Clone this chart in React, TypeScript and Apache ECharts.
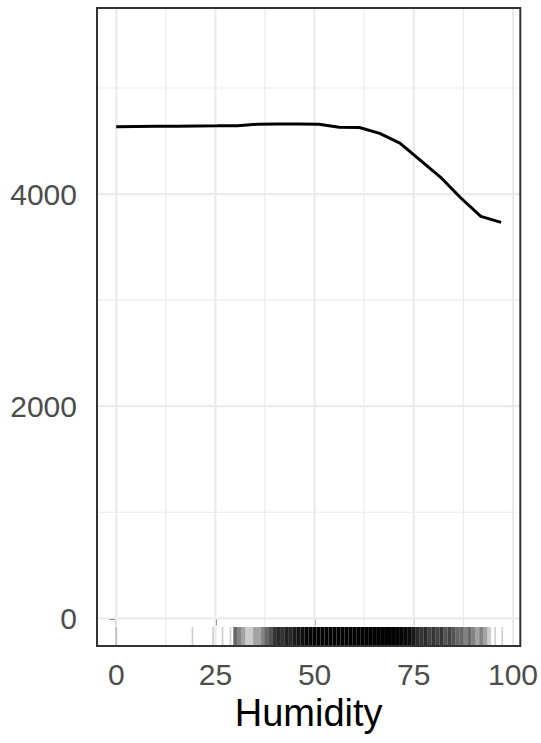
import { useEffect, useRef } from "react";
import * as echarts from "echarts";

// Partial dependence of predicted count on humidity
const pdHumidity = [0, 5.1, 10.2, 15.3, 20.4, 25.5, 30.6, 35.7, 40.8, 45.9, 51.1, 56.2, 61.3, 66.4, 71.5, 76.6, 81.7, 86.8, 91.9, 97.0];
const pdPrediction = [4634, 4636, 4638, 4640, 4642, 4643, 4645, 4659, 4660, 4660, 4658, 4630, 4627, 4572, 4480, 4320, 4160, 3965, 3790, 3733];

// Rug: isolated observations and binned observation counts
const rugSingles = [0, 19.2, 24.4, 26.8, 28.8, 95.5, 97.3];
const rugBinHumidity = [30, 31, 32, 33, 34, 35, 36, 37, 38, 39, 40, 41, 42, 43, 44, 45, 46, 47, 48, 49, 50, 51, 52, 53, 54, 55, 56, 57, 58, 59, 60, 61, 62, 63, 64, 65, 66, 67, 68, 69, 70, 71, 72, 73, 74, 75, 76, 77, 78, 79, 80, 81, 82, 83, 84, 85, 86, 87, 88, 89, 90, 91, 92, 93, 94];
const rugBinCount = [4, 3, 2, 1, 1, 2, 2, 3, 4, 5, 7, 8, 7, 9, 8, 10, 11, 13, 16, 18, 20, 22, 20, 24, 22, 25, 24, 26, 24, 25, 26, 24, 25, 23, 24, 22, 23, 20, 21, 19, 20, 18, 17, 15, 13, 10, 8, 7, 8, 6, 7, 6, 7, 5, 6, 5, 4, 4, 3, 4, 3, 2, 3, 2, 1];

// Axes
const xTicks = [0, 25, 50, 75, 100];
const xMinor = [12.5, 37.5, 62.5, 87.5];
const yTicks = [0, 2000, 4000];
const yMinor = [1000, 3000, 5000];
const xRange = [-4.85, 101.85];
const yRange = [-261, 5754];

export default function App() {
  const ref = useRef<HTMLDivElement>(null);
  useEffect(() => {
    if (!ref.current) return;
    const chart = echarts.init(ref.current, null, { renderer: "svg" });

    const gridData: number[][] = [];
    xTicks.forEach((v) => gridData.push([v, 0, 1]));
    xMinor.forEach((v) => gridData.push([v, 0, 0]));
    yTicks.forEach((v) => gridData.push([v, 1, 1]));
    yMinor.forEach((v) => gridData.push([v, 1, 0]));

    const rugBins = rugBinHumidity.map((h, i) => [h, rugBinCount[i]]);
    const rugLen = 19;
    const font = "'Liberation Sans', Arial, Helvetica, sans-serif";

    chart.setOption({
      animation: false,
      backgroundColor: "#ffffff",
      grid: {
        left: 97,
        top: 8,
        width: 426,
        height: 638,
        show: false,
        containLabel: false,
      },
      xAxis: {
        type: "value",
        min: xRange[0],
        max: xRange[1],
        name: "Humidity",
        nameLocation: "middle",
        nameGap: 45,
        nameTextStyle: { fontSize: 38, color: "#000000", fontFamily: font },
        axisLine: { show: false },
        splitLine: { show: false },
        axisTick: {
          show: true,
          length: 7,
          customValues: xTicks,
          lineStyle: { color: "#333333", width: 2 },
        },
        axisLabel: {
          customValues: xTicks,
          margin: 13,
          fontSize: 30,
          color: "#4d4d4d",
          fontFamily: font,
          formatter: (v: number) => String(v),
        },
      },
      yAxis: {
        type: "value",
        min: yRange[0],
        max: yRange[1],
        axisLine: { show: false },
        splitLine: { show: false },
        axisTick: {
          show: true,
          length: 7,
          customValues: yTicks,
          lineStyle: { color: "#333333", width: 2 },
        },
        axisLabel: {
          customValues: yTicks,
          margin: 20,
          fontSize: 30,
          color: "#4d4d4d",
          fontFamily: font,
          formatter: (v: number) => String(v),
        },
      },
      series: [
        {
          type: "custom",
          z: 1,
          silent: true,
          data: gridData,
          renderItem: (params: any, api: any) => {
            const cs = params.coordSys;
            const v = api.value(0);
            const isY = api.value(1) === 1;
            const major = api.value(2) === 1;
            const style = { stroke: "#ebebeb", lineWidth: major ? 2.2 : 1.2 };
            if (!isY) {
              const x = api.coord([v, yRange[0]])[0];
              return { type: "line", shape: { x1: x, y1: cs.y, x2: x, y2: cs.y + cs.height }, style };
            }
            const y = api.coord([xRange[0], v])[1];
            return { type: "line", shape: { x1: cs.x, y1: y, x2: cs.x + cs.width, y2: y }, style };
          },
        },
        {
          type: "custom",
          z: 2,
          silent: true,
          data: rugBins,
          renderItem: (params: any, api: any) => {
            const cs = params.coordSys;
            const h = api.value(0);
            const n = api.value(1);
            const x1 = api.coord([h - 0.5, yRange[0]])[0];
            const x2 = api.coord([h + 0.5, yRange[0]])[0];
            const bottom = cs.y + cs.height;
            return {
              type: "rect",
              shape: { x: x1, y: bottom - rugLen, width: x2 - x1, height: rugLen },
              style: { fill: "#000000", opacity: 1 - Math.pow(0.8, n) },
            };
          },
        },
        {
          type: "custom",
          z: 2,
          silent: true,
          data: rugSingles.map((h) => [h]),
          renderItem: (params: any, api: any) => {
            const cs = params.coordSys;
            const x = api.coord([api.value(0), yRange[0]])[0];
            const bottom = cs.y + cs.height;
            return {
              type: "line",
              shape: { x1: x, y1: bottom - rugLen, x2: x, y2: bottom },
              style: { stroke: "#000000", lineWidth: 1.6, opacity: 0.2 },
            };
          },
        },
        {
          type: "line",
          z: 3,
          silent: true,
          showSymbol: false,
          symbol: "none",
          data: pdHumidity.map((h, i) => [h, pdPrediction[i]]),
          lineStyle: { color: "#000000", width: 3 },
        },
        {
          type: "custom",
          z: 4,
          silent: true,
          data: [[0]],
          renderItem: (params: any) => {
            const cs = params.coordSys;
            return {
              type: "rect",
              shape: { x: cs.x, y: cs.y, width: cs.width, height: cs.height },
              style: { fill: "none", stroke: "#333333", lineWidth: 2 },
            };
          },
        },
      ],
    });
    return () => chart.dispose();
  }, []);

  return (
    <div
      ref={ref}
      style={{ position: "fixed", left: 0, top: 0, width: 541, height: 743, background: "#ffffff" }}
    />
  );
}
